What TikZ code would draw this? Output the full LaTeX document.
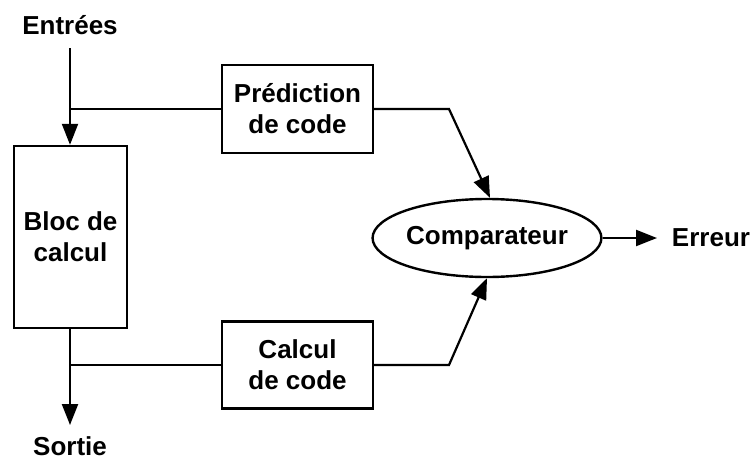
\documentclass[tikz,border=0pt]{standalone}
\usepackage{fontspec}
\setmainfont{Liberation Sans}
\usetikzlibrary{arrows.meta,shapes.geometric}
\begin{document}
\begin{tikzpicture}[x=1pt,y=-1pt,
  every node/.style={font=\fontsize{26}{31}\selectfont\bfseries, align=center},
  box/.style={draw, line width=2.4pt, inner sep=0pt},
  wire/.style={line width=2.2pt, line join=miter},
  arr/.style={wire, -{Triangle[length=21pt,width=16pt]}}]
\useasboundingbox (0,0) rectangle (756,461);

% blocks
\node[box, minimum width=113pt, minimum height=182pt] (bloc) at (70.5,237) {Bloc de\\calcul};
\node[box, minimum width=151pt, minimum height=88pt] (pred) at (297.5,109) {Prédiction\\de code};
\node[box, minimum width=151pt, minimum height=87pt] (calc) at (297.5,365) {Calcul\\de code};
\node[draw, ellipse, line width=2.4pt, minimum width=228pt, minimum height=78pt, inner sep=0pt] (comp) at (487,238) {Comparateur};

% labels
\node[inner sep=1pt] (entrees) at (70,25) {Entrées};
\node[inner sep=1pt] (sortie) at (70,446) {Sortie};
\node[inner sep=1pt] (erreur) at (711,238) {Erreur};

% wiring points
\coordinate (in) at (70,48);
\coordinate (j1) at (70,109);
\coordinate (bp) at (449,109);
\coordinate (j2) at (70,365);
\coordinate (bc) at (449,365);
\coordinate (out) at (70,425);
\coordinate (eout) at (657,238);

% connectors
\draw[arr] (in) -- (in |- bloc.north);
\draw[wire] (j1) -- (j1 -| pred.west);
\draw[arr] (bp -| pred.east) -- (bp) -- ([xshift=3pt]comp.north);
\draw[arr] (bloc.south -| out) -- (out);
\draw[wire] (j2) -- (j2 -| calc.west);
\draw[arr] (bc -| calc.east) -- (bc) -- (comp.south);
\draw[arr] (comp.east) -- (eout);
\end{tikzpicture}
\end{document}
